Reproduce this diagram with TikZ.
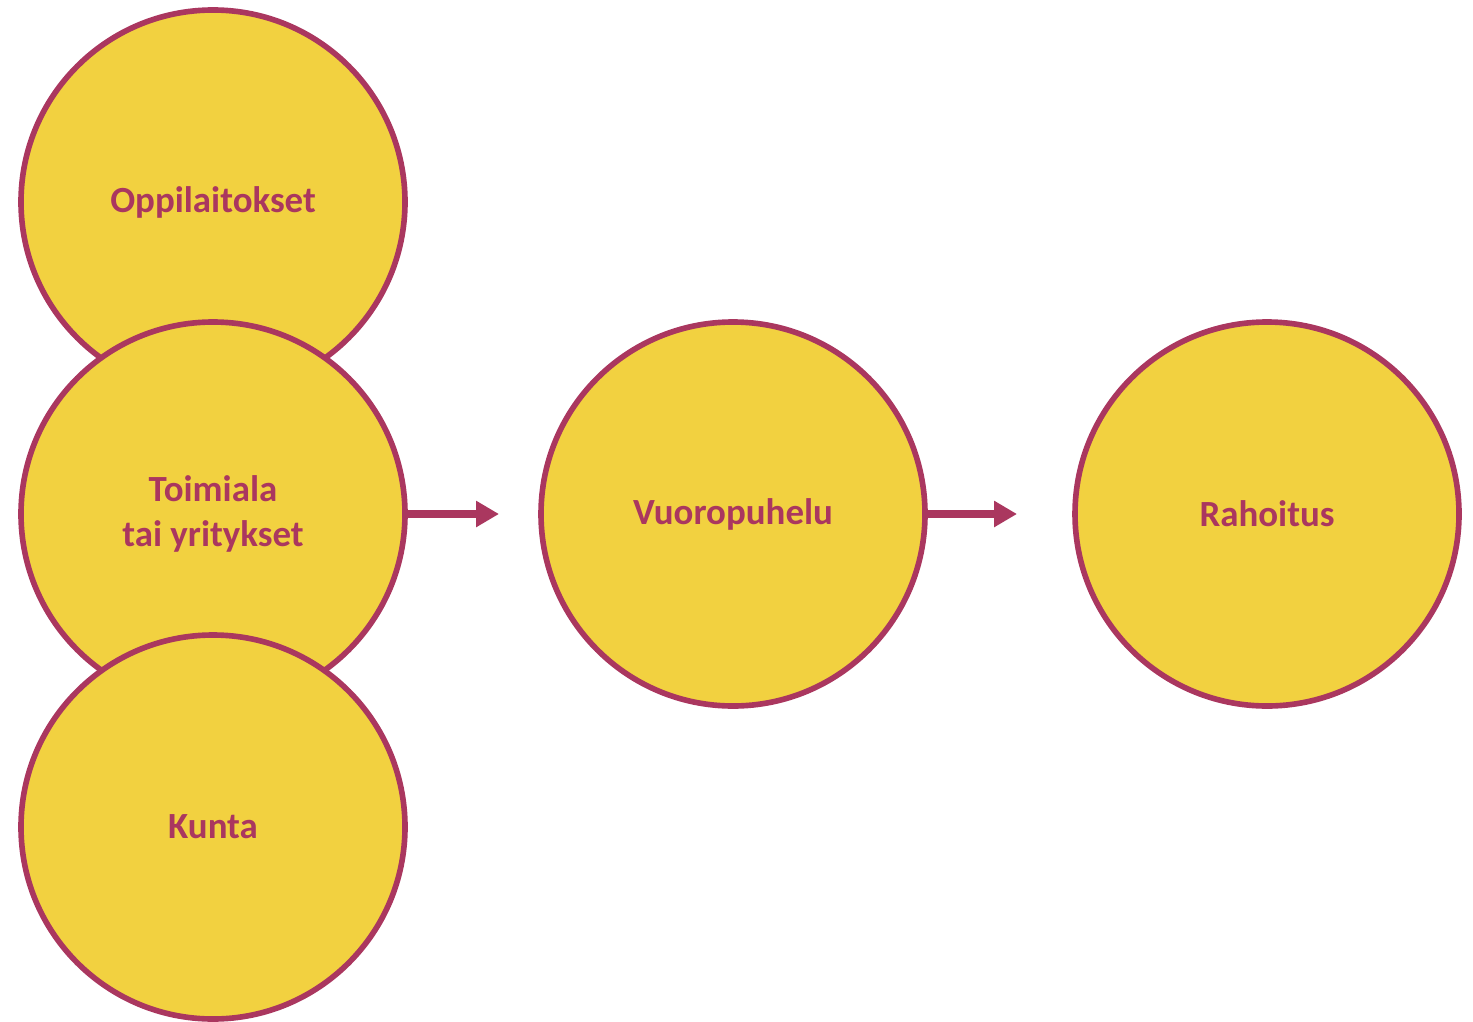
\documentclass[tikz,border=0pt]{standalone}
\usepackage{fontspec}
\setmainfont{Carlito}
\usetikzlibrary{positioning, arrows.meta}

\definecolor{plum}{HTML}{AA375F}
\definecolor{sun}{HTML}{F2D140}

\begin{document}
\begin{tikzpicture}
    [every node/.style={circle, draw=plum, line width=1.6pt, fill=sun,
       minimum size=3.84cm, inner sep=0pt, outer sep=0pt, align=center,
       text=plum, font=\fontsize{10.5}{12.8}\selectfont\bfseries},
     arr/.style={draw=plum, line width=2pt, -{Triangle[length=0.23cm, width=0.25cm]}},
    ]
    \useasboundingbox (0,0) rectangle (14.73,10.21);

    \node (oppilaitokset) at (2.13,8.19) {Oppilaitokset};
    \node (toimiala) [below=-0.72cm of oppilaitokset] {Toimiala\\tai yritykset};
    \node (kunta) [below=-0.71cm of toimiala] {Kunta};
    \node (vuoropuhelu) [right=1.36cm of toimiala] {Vuoropuhelu};
    \node (rahoitus) [right=1.50cm of vuoropuhelu] {Rahoitus};

    \draw [arr, shorten >=0.42cm] (toimiala) -- (vuoropuhelu);
    \draw [arr, shorten >=0.58cm] (vuoropuhelu) -- (rahoitus);

\end{tikzpicture}
\end{document}
